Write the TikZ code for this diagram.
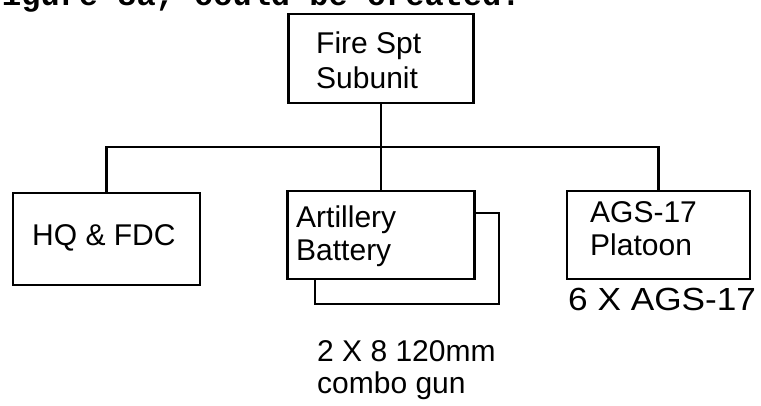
\documentclass[tikz,border=0pt]{standalone}
\usepackage{fontspec}
\setmainfont{Liberation Sans}
\newfontfamily\widesans[FakeStretch=1.1]{Liberation Sans}
\newfontfamily\scanmono{Liberation Mono}
\begin{document}
\begin{tikzpicture}[x=1pt,y=-1pt,
  unitbox/.style={draw, rectangle, line width=2.4pt, inner sep=0pt},
  wire/.style={draw, line width=2.4pt},
  boxtext/.style={anchor=north west, inner sep=0pt, align=left, font=\fontsize{30}{33}\selectfont},
  toptext/.style={anchor=north west, inner sep=0pt, align=left, font=\fontsize{30}{35}\selectfont},
  notetext/.style={anchor=north west, inner sep=0pt, align=left, font=\fontsize{30}{32}\selectfont}]
\useasboundingbox (0,0) rectangle (761,406);
\clip (0,0) rectangle (761,406);
% partially cut line of running text at the top
\node[anchor=base west, inner sep=0pt, font=\scanmono\bfseries\fontsize{32}{32}\selectfont] (prose) at (2,6) {igure 8a, could be created.};
% boxes
\node[unitbox, minimum width=185pt, minimum height=89pt] (top) at (381,58.5) {};
\node[unitbox, minimum width=187pt, minimum height=92pt] (hq) at (106.5,239) {};
\node[unitbox, minimum width=187pt, minimum height=88pt] (art) at (381,235) {};
\node[unitbox, minimum width=183pt, minimum height=88pt] (ags) at (658.5,235) {};
% shadow of the artillery box
\coordinate (shTR) at (499,213);
\coordinate (shBL) at (315,304);
\draw[wire] (art.east |- shTR) -- (shTR) -- (shTR |- shBL) -- (shBL) -- (shBL |- art.south);
% texts
\node[toptext] (topt) at (316,32) {Fire Spt\\Subunit};
\node[boxtext] (hqt) at (32,224) {HQ \& FDC};
\node[boxtext] (artt) at (296,206) {Artillery\\Battery};
\node[boxtext] (agst) at (590,201) {AGS-17\\Platoon};
\node[anchor=north west, inner sep=0pt, font=\widesans\fontsize{32}{32}\selectfont] (agsn) at (568,288) {6 X AGS-17};
\node[notetext] (artn) at (317,340) {2 X 8 120mm\\combo gun};
% connectors
\coordinate (bus) at (0,147);
\draw[wire] (top.south) -- (art.north);
\draw[wire] (hq.north) -- (hq.north |- bus) -- (ags.north |- bus) -- (ags.north);
\end{tikzpicture}
\end{document}
